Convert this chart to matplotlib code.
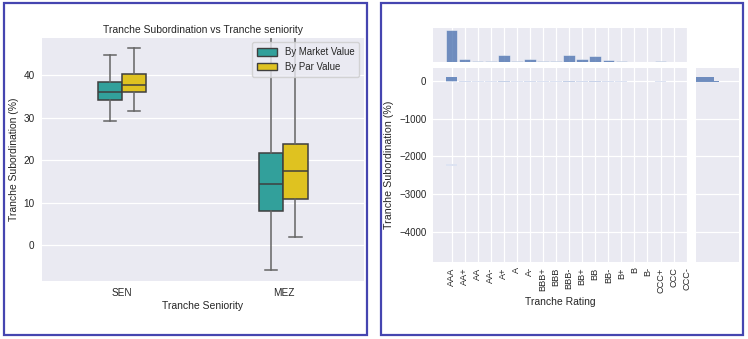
import matplotlib
matplotlib.use("Agg")
import matplotlib.pyplot as plt
from matplotlib.patches import Rectangle, Patch
from matplotlib.colors import LinearSegmentedColormap, Normalize
import numpy as np

# ---------------------------------------------------------------- data
seniority = ["SEN", "MEZ"]

# subordination (%) box statistics, by market value
mv_whislo = [29.3, -5.9]
mv_q1 = [34.3, 7.9]
mv_med = [36.1, 14.5]
mv_q3 = [38.5, 21.7]
mv_whishi = [44.9, 60.0]

# subordination (%) box statistics, by par value
pv_whislo = [31.6, 1.8]
pv_q1 = [36.1, 10.9]
pv_med = [37.7, 17.4]
pv_q3 = [40.3, 23.9]
pv_whishi = [46.4, 60.0]

ratings = ["AAA", "AA+", "AA", "AA-", "A+", "A", "A-", "BBB+", "BBB", "BBB-",
           "BB+", "BB", "BB-", "B+", "B", "B-", "CCC+", "CCC", "CCC-"]

# subordination bins (%) used for the rating / subordination histogram
bin_low = [-2245, -25, 15]
bin_high = [-2215, 15, 115]

# tranche counts per rating falling in each subordination bin
counts_outlier = [1, 0, 0, 0, 0, 0, 0, 0, 0, 0, 0, 0, 0, 0, 0, 0, 0, 0, 0]
counts_near_zero = [5, 4, 1, 1, 10, 1, 4, 1, 1, 11, 4, 9, 3, 1, 0, 0, 1, 0, 0]
counts_high = [45, 0, 0, 0, 0, 0, 0, 0, 0, 0, 0, 0, 0, 0, 0, 0, 0, 0, 0]

# ---------------------------------------------------------------- style
BG = "#eaeaf2"
TXT = "#262626"
BLUE = "#4c72b0"
TEAL = "#32a09b"
GOLD = "#dfc220"
EDGE = "#3f3f3f"
WHISK = "#646464"

plt.rcParams.update({
    "font.family": ["Liberation Sans", "DejaVu Sans"],
    "axes.facecolor": BG,
    "axes.grid": True,
    "grid.color": "white",
    "grid.linewidth": 0.9,
    "axes.axisbelow": True,
    "text.color": TXT,
    "axes.labelcolor": TXT,
    "xtick.color": TXT,
    "ytick.color": TXT,
    "xtick.major.size": 0,
    "ytick.major.size": 0,
    "xtick.major.pad": 5,
    "ytick.major.pad": 5,
})

W, H = 748, 339
fig = plt.figure(figsize=(W / 100, H / 100), dpi=100)
fig.patch.set_facecolor("white")


def px_axes(x0, y0, x1, y1, **kw):
    ax = fig.add_axes([x0 / W, 1 - y1 / H, (x1 - x0) / W, (y1 - y0) / H], **kw)
    for s in ax.spines.values():
        s.set_visible(False)
    return ax


# ---------------------------------------------------------------- left: box plot
ax = px_axes(41.5, 37.7, 364, 281)
pos = np.arange(len(seniority))
offset, bw = 0.075, 0.15


def stats(lo, q1, med, q3, hi):
    return [dict(whislo=a, q1=b, med=c, q3=d, whishi=e, fliers=[])
            for a, b, c, d, e in zip(lo, q1, med, q3, hi)]


for st, shift, col in [
    (stats(mv_whislo, mv_q1, mv_med, mv_q3, mv_whishi), -offset, TEAL),
    (stats(pv_whislo, pv_q1, pv_med, pv_q3, pv_whishi), offset, GOLD),
]:
    ax.bxp(st, positions=pos + shift, widths=bw, patch_artist=True,
           showfliers=False, manage_ticks=False, capwidths=bw / 2,
           boxprops=dict(facecolor=col, edgecolor=EDGE, linewidth=1.1),
           medianprops=dict(color=EDGE, linewidth=1.1),
           whiskerprops=dict(color=WHISK, linewidth=1.1),
           capprops=dict(color=WHISK, linewidth=1.1))

ax.set_xlim(-0.5, 1.5)
ax.set_ylim(-8.5, 48.9)
ax.set_xticks(pos, seniority)
ax.set_yticks([0, 10, 20, 30, 40])
ax.xaxis.grid(False)
ax.tick_params(labelsize=7.2)
ax.set_title("Tranche Subordination vs Tranche seniority", fontsize=7.5, pad=3.5)
ax.set_xlabel("Tranche Seniority", fontsize=7.5, labelpad=2)
ax.set_ylabel("Tranche Subordination (%)", fontsize=7.5, labelpad=3)
leg = ax.legend(handles=[Patch(facecolor=TEAL, edgecolor=EDGE, label="By Market Value"),
                         Patch(facecolor=GOLD, edgecolor=EDGE, label="By Par Value")],
                loc="upper right", fontsize=6.9, frameon=True, fancybox=True,
                framealpha=0.8, edgecolor="#cccccc", facecolor=BG,
                handlelength=2.1, handleheight=0.8, borderpad=0.5, labelspacing=0.5)
leg.set_zorder(5)

# ---------------------------------------------------------------- right: joint histogram
xr = np.arange(len(ratings))
bin_counts = [counts_outlier, counts_near_zero, counts_high]

axj = px_axes(433.3, 68.3, 687.3, 261.7)
axt = px_axes(433.3, 28.3, 687.3, 61.7, sharex=axj)
axr = px_axes(696, 68.3, 739.3, 261.7, sharey=axj)

cmap = LinearSegmentedColormap.from_list("light_blue", ["#dfe5f3", BLUE])
vmax = max(max(c) for c in bin_counts)
norm = Normalize(vmin=0, vmax=vmax * 1.3)
for lo, hi, cnt in zip(bin_low, bin_high, bin_counts):
    cnt = np.asarray(cnt)
    m = cnt > 0
    axj.bar(xr[m], hi - lo, bottom=lo, width=0.9,
            color=cmap(norm(cnt[m])), linewidth=0)

axj.set_xlim(-1.4, 18.05)
axj.set_ylim(-4800, 340)
axj.set_xticks(xr, ratings)
axj.tick_params(axis="x", labelsize=6.6, rotation=90, pad=4)
axj.tick_params(axis="y", labelsize=7.0)
axj.set_xlabel("Tranche Rating", fontsize=7.5, labelpad=3)
axj.set_ylabel("Tranche Subordination (%)", fontsize=7.7, labelpad=4)

# marginal: tranches per rating
per_rating = np.sum(bin_counts, axis=0)
axt.bar(xr, per_rating, width=0.88, color=BLUE, alpha=0.78,
        edgecolor="white", linewidth=0.4)
axt.tick_params(labelbottom=False, labelleft=False)
axt.set_yticks([])

# marginal: tranches per subordination bin
per_bin = [sum(c) for c in bin_counts]
axr.barh([(lo + hi) / 2 for lo, hi in zip(bin_low, bin_high)], per_bin,
         height=[hi - lo for lo, hi in zip(bin_low, bin_high)],
         color=BLUE, alpha=0.78, linewidth=0)
axr.set_xlim(0, max(per_bin) * 1.85)
axr.set_xticks([])
axr.tick_params(labelleft=False)

# ---------------------------------------------------------------- panel frames
for x0, x1 in [(4, 367), (380.5, 742.5)]:
    fig.add_artist(Rectangle((x0 / W, 1 - 335 / H), (x1 - x0) / W, (335 - 3) / H,
                             transform=fig.transFigure, fill=False,
                             edgecolor="#4545b0", linewidth=1.6))

fig.savefig("out.png", dpi=100, facecolor="white")
